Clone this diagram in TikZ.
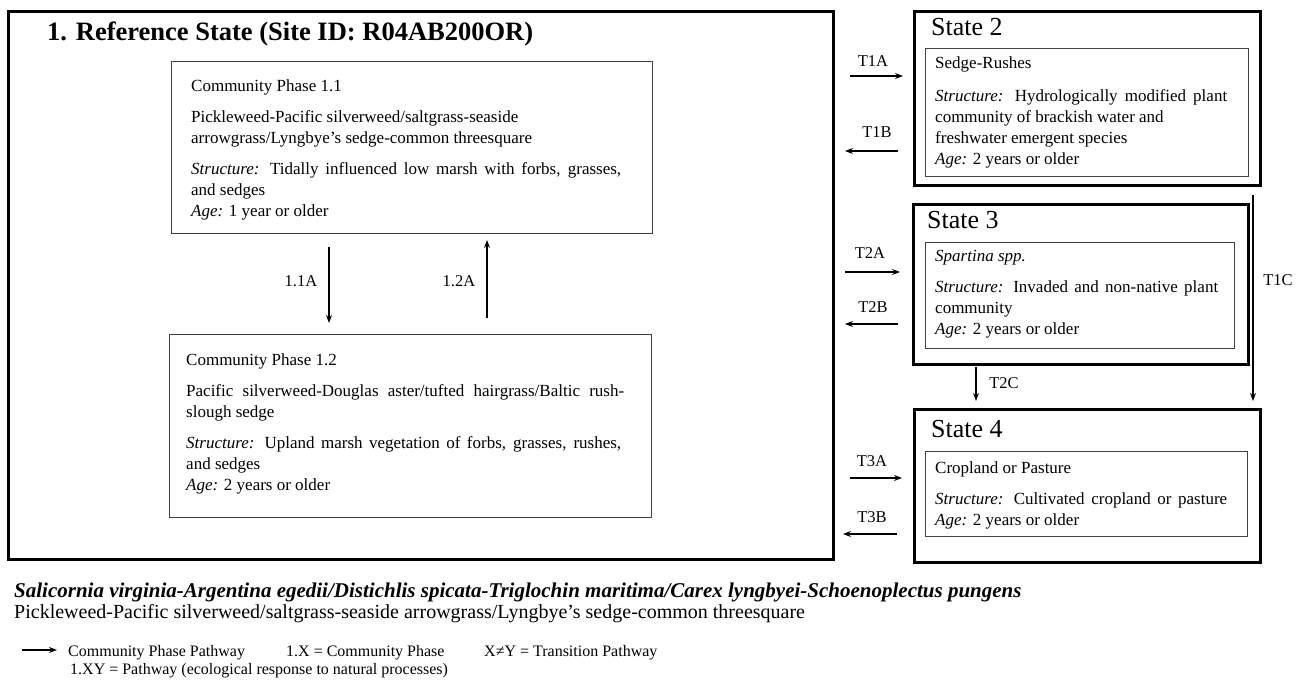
\documentclass[tikz,border=0pt]{standalone}
\usepackage{fontspec}
\setmainfont{Liberation Serif}
\usetikzlibrary{arrows.meta}
\begin{document}
\begin{tikzpicture}[x=1pt,y=-1pt,
  thickbox/.style={draw=black,line width=3pt,inner sep=0pt,anchor=north west},
  thinbox/.style={draw=black!75,line width=1.1pt,inner sep=0pt,anchor=north west},
  txt/.style={inner sep=0pt,anchor=base west,font=\fontsize{17}{21}\selectfont},
  statehead/.style={inner sep=0pt,anchor=base west,font=\fontsize{26}{28}\selectfont},
  lbl/.style={inner sep=0pt,font=\fontsize{16.5}{18}\selectfont},
  legtxt/.style={inner sep=0pt,anchor=base west,font=\fontsize{16}{18}\selectfont},
  arr/.style={-{Stealth[length=8pt,width=6pt]},line width=1.1pt},
]
\useasboundingbox (0,0) rectangle (1307,684);
\fill[white] (0,0) rectangle (1307,684);

% ---------- Reference state ----------
\node[thickbox,minimum width=825pt,minimum height=548pt] (ref) at (7,10) {};
\node[inner sep=0pt,anchor=base west,font=\fontsize{26.5}{28}\selectfont\bfseries] (reftitle) at (47,41) {1. Reference State (Site ID: R04AB200OR)};

\node[thinbox,minimum width=481pt,minimum height=172pt] (p11) at (171,61) {};
\node[txt] (p11t) at (191,92) {\parbox[t]{470pt}{Community Phase 1.1\\[10pt]
Pickleweed-Pacific silverweed/saltgrass-seaside\\
arrowgrass/Lyngbye's sedge-common threesquare\\[10pt]
\makebox[430pt][s]{\textit{Structure:} Tidally influenced low marsh with forbs, grasses,}\\
and sedges\\
\textit{Age:} 1 year or older}};

\node[thinbox,minimum width=482pt,minimum height=183pt] (p12) at (169,334) {};
\node[txt] (p12t) at (186,366) {\parbox[t]{470pt}{Community Phase 1.2\\[10pt]
\makebox[438pt][s]{Pacific silverweed-Douglas aster/tufted hairgrass/Baltic rush-}\\
slough sedge\\[10pt]
\makebox[435pt][s]{\textit{Structure:} Upland marsh vegetation of forbs, grasses, rushes,}\\
and sedges\\
\textit{Age:} 2 years or older}};

\coordinate (a11s) at (329,247);
\coordinate (a11e) at (329,323);
\coordinate (a12s) at (487,318);
\coordinate (a12e) at (487,240);
\draw[arr] (a11s) -- (a11e);
\draw[arr] (a12s) -- (a12e);
\node[lbl] (l11a) at (301,281) {1.1A};
\node[lbl] (l12a) at (459,281) {1.2A};

% ---------- State 2 ----------
\node[thickbox,minimum width=346pt,minimum height=174pt] (s2) at (913,10) {};
\node[statehead] (s2h) at (931,36) {State 2};
\node[thinbox,minimum width=323pt,minimum height=128pt] (s2i) at (925,48) {};
\node[txt] (s2t) at (935,69) {\parbox[t]{310pt}{Sedge-Rushes\\[12pt]
\makebox[292pt][s]{\textit{Structure:} Hydrologically modified plant}\\
community of brackish water and\\
freshwater emergent species\\
\textit{Age:} 2 years or older}};

% ---------- State 3 ----------
\node[thickbox,minimum width=335pt,minimum height=160pt] (s3) at (912,203) {};
\node[statehead] (s3h) at (927,229) {State 3};
\node[thinbox,minimum width=309pt,minimum height=106pt] (s3i) at (925,242) {};
\node[txt] (s3t) at (935,262) {\parbox[t]{300pt}{\textit{Spartina spp.}\\[10pt]
\makebox[283pt][s]{\textit{Structure:} Invaded and non-native plant}\\
community\\
\textit{Age:} 2 years or older}};

% ---------- State 4 ----------
\node[thickbox,minimum width=346pt,minimum height=153pt] (s4) at (913,408) {};
\node[statehead] (s4h) at (931,438) {State 4};
\node[thinbox,minimum width=322pt,minimum height=85pt] (s4i) at (925,451) {};
\node[txt] (s4t) at (935,473) {\parbox[t]{310pt}{Cropland or Pasture\\[11pt]
\makebox[292pt][s]{\textit{Structure:} Cultivated cropland or pasture}\\
\textit{Age:} 2 years or older}};

% ---------- Transition arrows ----------
\coordinate (t1as) at (850,76);  \coordinate (t1ae) at (903,76);
\coordinate (t1bs) at (898,151); \coordinate (t1be) at (845,151);
\coordinate (t2as) at (845,272); \coordinate (t2ae) at (900,272);
\coordinate (t2bs) at (898,324); \coordinate (t2be) at (845,324);
\coordinate (t3as) at (850,478); \coordinate (t3ae) at (902,478);
\coordinate (t3bs) at (897,534); \coordinate (t3be) at (843,534);
\coordinate (t2cs) at (976,367); \coordinate (t2ce) at (976,401);
\coordinate (t1cs) at (1253,195); \coordinate (t1ce) at (1253,401);
\draw[arr] (t1as) -- (t1ae);
\draw[arr] (t1bs) -- (t1be);
\draw[arr] (t2as) -- (t2ae);
\draw[arr] (t2bs) -- (t2be);
\draw[arr] (t3as) -- (t3ae);
\draw[arr] (t3bs) -- (t3be);
\draw[arr] (t2cs) -- (t2ce);
\draw[arr] (t1cs) -- (t1ce);
\node[lbl] (lt1a) at (873,61) {T1A};
\node[lbl] (lt1b) at (877,132) {T1B};
\node[lbl] (lt2a) at (870,253) {T2A};
\node[lbl] (lt2b) at (873,307) {T2B};
\node[lbl] (lt3a) at (872,461) {T3A};
\node[lbl] (lt3b) at (872,517) {T3B};
\node[lbl] (lt2c) at (1004,383) {T2C};
\node[lbl] (lt1c) at (1278,280) {T1C};

% ---------- Bottom text ----------
\node[inner sep=0pt,anchor=base west,font=\fontsize{21}{23}\selectfont\bfseries\itshape] (sci) at (14,597) {Salicornia virginia-Argentina egedii/Distichlis spicata-Triglochin maritima/Carex lyngbyei-Schoenoplectus pungens};
\node[inner sep=0pt,anchor=base west,font=\fontsize{20}{22}\selectfont] (com) at (14,618) {Pickleweed-Pacific silverweed/saltgrass-seaside arrowgrass/Lyngbye's sedge-common threesquare};

% ---------- Legend ----------
\coordinate (legs) at (22,650);
\coordinate (lege) at (57,650);
\draw[arr] (legs) -- (lege);
\node[legtxt] (leg1) at (68,656) {Community Phase Pathway};
\node[legtxt] (leg2) at (286,656) {1.X = Community Phase};
\node[legtxt] (leg3) at (484,656) {X≠Y = Transition Pathway};
\node[legtxt] (leg4) at (70,674) {1.XY = Pathway (ecological response to natural processes)};
\end{tikzpicture}
\end{document}
